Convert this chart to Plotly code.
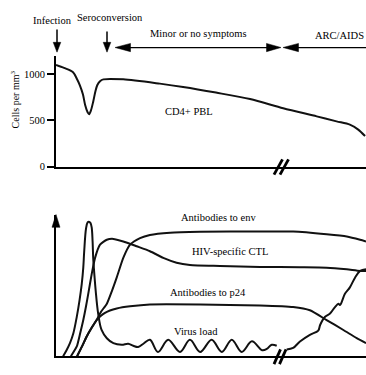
import plotly.graph_objects as go

W, H = 366, 375
FONT = "Liberation Serif, Times New Roman, serif"

# ---------------- data (schematic; time in arbitrary units 0-100) ----------------
# Top panel: CD4+ PBL, cells per mm^3
cd4_t = [0, 2.6, 5.5, 6.8, 7.7, 8.7, 9.4, 10.2, 10.7, 11.3, 12.0, 12.7, 13.3, 14.2,
         15.3, 21.7, 33.5, 41.0, 51.6, 62.6, 73.3, 84.1, 90.5, 94.8, 97.5, 99.7]
cd4_cells = [1099, 1067, 1021, 945, 879, 780, 666, 588, 567, 610, 702, 812, 879, 923,
             943, 943, 897, 861, 800, 730, 631, 543, 489, 453, 400, 330]

# Bottom panel: relative response (0-100)
virus_t = [2.3, 3.4, 4.5, 5.6, 6.7, 7.6, 8.3, 8.8, 9.1, 9.7, 10.2, 10.6, 11.1, 11.5,
           11.8, 12.0, 12.4, 12.8, 13.6, 14.7, 16.4, 18.5, 21.2, 23.3, 24.9, 26.5,
           28.2, 30.3, 32.9, 36.2, 40.0, 43.2, 46.5, 50.2, 53.5, 56.7, 59.9, 63.2,
           66.5, 68.0, 69.6, 71.2, None, 74.4, 76.5, 78.7, 81.9, 84.6, 85.2, 86.8,
           88.4, 90.0, 91.1, 91.6, 93.2, 94.8, 96.5, 98.1, 100]
virus_v = [0, 4.2, 9.2, 16.2, 27.8, 39.6, 50.9, 62.5, 74.1, 90.3, 94.4, 94.9, 94.1, 91.0,
           81.3, 69.4, 56.9, 46.3, 30.1, 18.5, 12.7, 9.2, 8.1, 8.8, 7.4, 6.5,
           8.8, 11.6, 3.0, 11.6, 3.0, 11.6, 3.0, 11.6, 3.0, 11.6, 3.0, 10.5,
           4.2, 5.1, 8.1, 7.4, None, 4.7, 5.8, 10.4, 15.1, 18.1, 22.0, 27.8,
           30.1, 34.7, 37.0, 36.1, 44.0, 48.6, 55.6, 60.2, 61.3]

ctl_t = [4.8, 6.7, 7.7, 8.8, 9.7, 10.4, 11.5, 12.6, 14.2, 16.4, 18.5, 21.7, 26.0, 30.3,
         34.6, 38.9, 43.2, 52.9, 65.8, 78.7, 87.3, 93.8, 98.1, 100]
ctl_v = [0, 6.9, 15.3, 25.5, 35.4, 44.0, 57.8, 69.4, 78.7, 82.2, 82.8, 81.0, 77.6, 74.1,
         69.4, 66.0, 64.4, 63.7, 63.0, 62.8, 62.5, 61.3, 60.2, 60.2]

env_t = [6.8, 8.4, 9.9, 11.5, 13.1, 14.5, 16.4, 18.0, 19.6, 21.7, 23.9, 27.1, 30.3, 36.8,
         46.5, 65.8, 76.5, 87.3, 93.8, 98.1, 100]
env_v = [0, 6.9, 13.9, 20.1, 25.5, 31.3, 37.0, 45.8, 55.6, 69.4, 78.7, 83.3, 85.6, 87.2,
         87.8, 88.0, 88.0, 86.1, 84.5, 82.2, 81.0]

p24_t = [6.8, 8.4, 9.9, 11.5, 13.1, 14.5, 15.8, 17.4, 19.6, 23.9, 30.3, 46.5, 65.8, 76.5,
         81.9, 87.3, 92.7, 97.0, 100]
p24_v = [0, 6.9, 13.9, 20.1, 25.5, 28.5, 30.6, 32.3, 33.7, 35.2, 36.5, 36.5, 35.8, 34.7,
         32.4, 25.5, 18.5, 12.7, 9.2]

cell_ticks = [0, 500, 1000]
cell_tick_text = ["0", "500", "1000"]
phase_labels = ["Infection", "Seroconversion", "Minor or no symptoms", "ARC/AIDS"]
curve_labels = ["CD4+ PBL", "Antibodies to env", "HIV-specific CTL",
                "Antibodies to p24", "Virus load"]

# ---------------- helpers (pixel -> paper) ----------------
def X(px):
    return px / W

def Y(py):
    return 1 - py / H

def seg(x0, y0, x1, y1, w=1.5):
    return dict(type="line", xref="paper", yref="paper",
                x0=X(x0), y0=Y(y0), x1=X(x1), y1=Y(y1),
                line=dict(color="black", width=w))

def head(tx, ty, bx, by, half):
    dx, dy = tx - bx, ty - by
    L = (dx * dx + dy * dy) ** 0.5
    nx, ny = -dy / L * half, dx / L * half
    pts = [(tx, ty), (bx + nx, by + ny), (bx - nx, by - ny)]
    path = "M " + " L ".join(f"{X(a):.5f},{Y(b):.5f}" for a, b in pts) + " Z"
    return dict(type="path", xref="paper", yref="paper", path=path,
                fillcolor="black", line=dict(color="black", width=0.5))

LINE = dict(color="#111111", width=2)

fig = go.Figure()
fig.add_trace(go.Scatter(x=cd4_t, y=cd4_cells, mode="lines",
                         line=dict(LINE, shape="spline", smoothing=0.8),
                         xaxis="x", yaxis="y", hoverinfo="skip"))
fig.add_trace(go.Scatter(x=virus_t, y=virus_v, mode="lines",
                         line=dict(LINE, shape="spline", smoothing=1.0),
                         connectgaps=False, xaxis="x2", yaxis="y2", hoverinfo="skip"))
for tt, vv in [(ctl_t, ctl_v), (env_t, env_v), (p24_t, p24_v)]:
    fig.add_trace(go.Scatter(x=tt, y=vv, mode="lines",
                             line=dict(LINE, shape="spline", smoothing=0.6),
                             xaxis="x2", yaxis="y2", hoverinfo="skip"))

xdom = [X(56), 1]
ax_common = dict(showgrid=False, zeroline=False, showline=True, linecolor="black",
                 linewidth=1.5, ticks="", showticklabels=False, range=[0, 100], fixedrange=True)

shapes = [
    # arrows above the top panel
    seg(57, 30, 57, 44), head(57, 53, 57, 43, 3.8),
    seg(107, 32, 107, 44), head(107, 53, 107, 43, 3.8),
    seg(128, 48.3, 268, 48.3, 1.3), head(115, 48.3, 130.5, 48.3, 4.2), head(281, 48.3, 266.5, 48.3, 4.2),
    seg(296, 48.3, 366, 48.3, 1.3), head(283, 48.3, 298.5, 48.3, 4.2),
    # arrowhead on bottom y axis
    head(56, 218, 56, 231, 4),
    # axis break marks
    seg(274, 177.5, 282.5, 162, 2.8), seg(280, 177.5, 288.5, 162, 2.8),
    seg(274, 370, 280.5, 355, 2.8), seg(279.5, 370, 286, 355, 2.8),
]

annots = []
def txt(s, px, py, size=10.5, angle=0):
    annots.append(dict(text=s, x=X(px), y=Y(py), xref="paper", yref="paper",
                       showarrow=False, xanchor="center", yanchor="middle",
                       textangle=angle, font=dict(family=FONT, size=size, color="black")))

txt(phase_labels[0], 52.5, 21)
txt(phase_labels[1], 109.5, 17.7)
txt(phase_labels[2], 198.5, 34)
txt(phase_labels[3], 339.5, 36)
txt("Cells per mm<sup>3</sup>", 15, 101, size=10, angle=-90)
txt(curve_labels[0], 189, 113)
txt(curve_labels[1], 218.8, 221.3)
txt(curve_labels[2], 230, 256)
txt(curve_labels[3], 208.3, 297)
txt(curve_labels[4], 195.8, 337)

fig.update_layout(
    width=W, height=H, margin=dict(l=0, r=0, t=0, b=0),
    paper_bgcolor="white", plot_bgcolor="white", showlegend=False,
    xaxis=dict(ax_common, domain=xdom, anchor="y"),
    yaxis=dict(domain=[Y(169.3), Y(57)], range=[0, 1194.7], anchor="x",
               showgrid=False, zeroline=False, showline=True, linecolor="black", linewidth=2,
               ticks="outside", ticklen=7, tickwidth=1.5, tickcolor="black",
               tickvals=cell_ticks, ticktext=cell_tick_text,
               tickfont=dict(family=FONT, size=10.5, color="black"), fixedrange=True),
    xaxis2=dict(ax_common, domain=xdom, anchor="y2"),
    yaxis2=dict(domain=[Y(362), Y(218)], range=[0, 100], anchor="x2",
                showgrid=False, zeroline=False, showline=True, linecolor="black", linewidth=2,
                ticks="", showticklabels=False, fixedrange=True),
    shapes=shapes, annotations=annots,
)

fig.write_html("out.html")
